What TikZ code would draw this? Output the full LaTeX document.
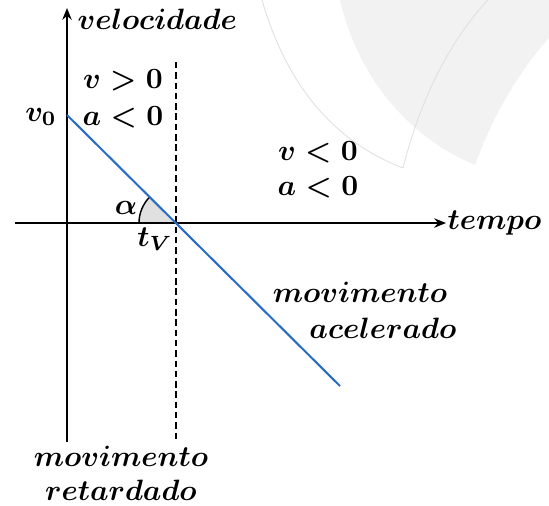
\documentclass[tikz,border=0pt]{standalone}
\usetikzlibrary{arrows.meta}
\begin{document}
\begin{tikzpicture}[x=0.34pt,y=-0.34pt,
  lbl/.style={inner sep=0pt,font=\boldmath},
  axis/.style={line width=0.7pt,-{Stealth[length=4pt,width=3.2pt]}},
  wm/.style={fill=black!5,draw=none},
  wmline/.style={draw=black!12,line width=0.3pt}]
\useasboundingbox (0,0) rectangle (549,505);
% watermark
\fill[wm] (340,0) .. controls (360,85) and (415,140) .. (475,165)
  .. controls (492,118) and (518,72) .. (549,38) -- (549,0) -- cycle;
\draw[wmline] (262,0) .. controls (285,80) and (330,140) .. (403,168);
\draw[wmline] (403,168) .. controls (420,100) and (450,40) .. (488,0);
% coordinates
\coordinate (O) at (67,223);
\coordinate (ybot) at (67,442);
\coordinate (ytop) at (67,8);
\coordinate (xleft) at (15,223);
\coordinate (xright) at (446,223);
\coordinate (v0) at (67,115);
\coordinate (tV) at (176,223);
\coordinate (lend) at (340,386);
\coordinate (dtop) at (176,62);
\coordinate (dbot) at (176,442);
% angle
\fill[black!12] (tV) -- ++(180:37) arc[start angle=180,end angle=225,radius=37] -- cycle;
\draw[line width=0.5pt] (tV) ++(180:37) arc[start angle=180,end angle=225,radius=37];
% axes
\draw[axis] (ybot) -- (ytop);
\draw[axis] (xleft) -- (xright);
\draw[dashed,line width=0.55pt,dash pattern=on 2.2pt off 1.3pt] (dtop) -- (dbot);
\draw[line width=0.7pt,color={rgb,255:red,40;green,108;blue,200}] (v0) -- (lend);
% labels
\node[lbl,anchor=west] (vel) at (77,19) {$velocidade$};
\node[lbl,anchor=west] (tem) at (447,223) {$tempo$};
\node[lbl] (lv0) at (41,117) {$v_0$};
\node[lbl] (vp) at (123,80) {$v>0$};
\node[lbl] (an1) at (123,117) {$a<0$};
\node[lbl] (vn) at (318,152) {$v<0$};
\node[lbl] (an2) at (318,187) {$a<0$};
\node[lbl] (al) at (126,208) {$\alpha$};
\node[lbl] (ltV) at (155,239) {$t_V$};
\node[lbl] (m1) at (360,292) {$movimento$};
\node[lbl] (ac) at (383,328) {$acelerado$};
\node[lbl] (m2) at (121,456) {$movimento$};
\node[lbl] (re) at (121,490) {$retardado$};
\end{tikzpicture}
\end{document}
